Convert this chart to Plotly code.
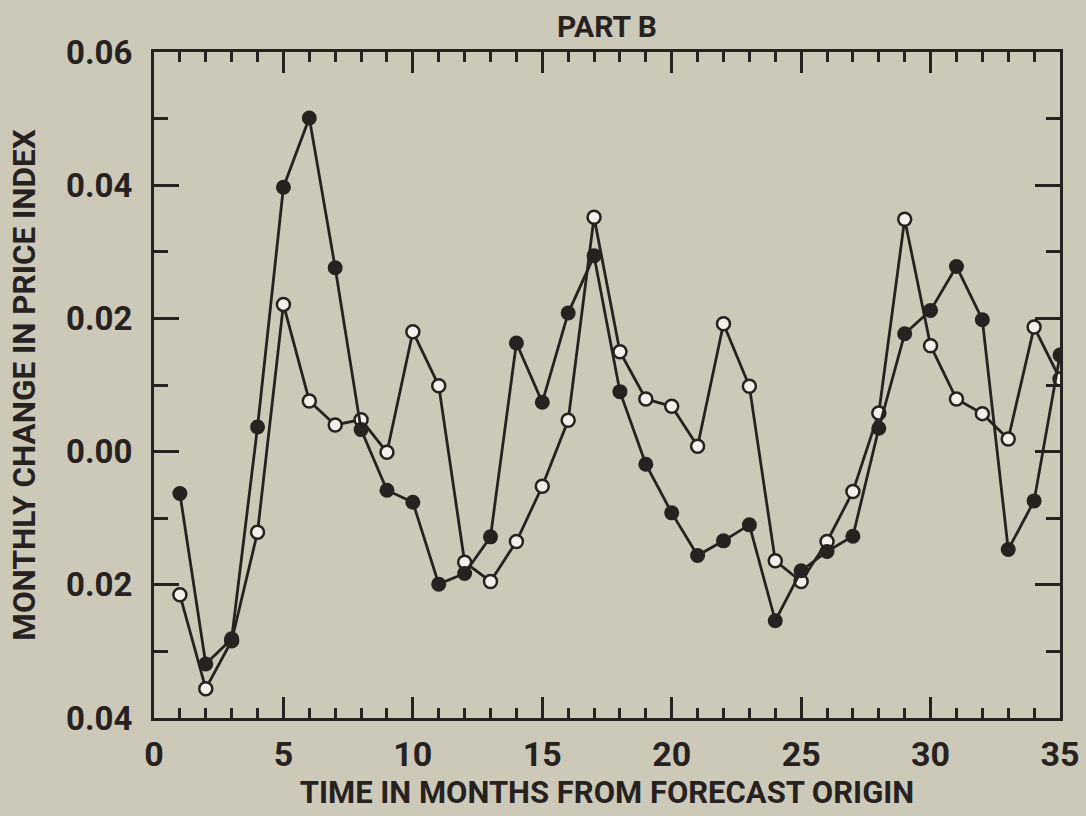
import plotly.graph_objects as go

# Months from the forecast origin
months = list(range(1, 36))

# Solid-dot series: monthly change in price index
series_solid = [
    -0.0063, -0.0319, -0.0281, 0.0037, 0.0397, 0.0501, 0.0276, 0.0033, -0.0058, -0.0076,
    -0.0199, -0.0183, -0.0128, 0.0163, 0.0074, 0.0208, 0.0294, 0.0090, -0.0019, -0.0092,
    -0.0156, -0.0134, -0.0110, -0.0254, -0.0179, -0.0150, -0.0127, 0.0035, 0.0177, 0.0212,
    0.0278, 0.0198, -0.0147, -0.0074, 0.0145,
]

# Open-circle series: monthly change in price index
series_open = [
    -0.0215, -0.0356, -0.0284, -0.0121, 0.0221, 0.0076, 0.0040, 0.0048, -0.0001, 0.0180,
    0.0099, -0.0166, -0.0195, -0.0135, -0.0052, 0.0047, 0.0352, 0.0150, 0.0079, 0.0068,
    0.0008, 0.0192, 0.0098, -0.0164, -0.0195, -0.0135, -0.0060, 0.0058, 0.0349, 0.0159,
    0.0079, 0.0057, 0.0019, 0.0187, 0.0109,
]

x_tick_vals = [0, 5, 10, 15, 20, 25, 30, 35]
y_tick_vals = [0.06, 0.04, 0.02, 0.00, -0.02, -0.04]
y_tick_text = ["0.06", "0.04", "0.02", "0.00", "0.02", "0.04"]

INK = "#27221f"
BG = "#cdc9b9"
FONT = "Roboto, Liberation Sans, sans-serif"

fig = go.Figure()

fig.add_trace(go.Scatter(
    x=months, y=series_open, mode="lines+markers",
    line=dict(color=INK, width=2.8),
    marker=dict(symbol="circle", size=13, color="#f2f0e8",
                line=dict(color=INK, width=2.5)),
    showlegend=False,
))
fig.add_trace(go.Scatter(
    x=months, y=series_solid, mode="lines+markers",
    line=dict(color=INK, width=2.8),
    marker=dict(symbol="circle", size=15, color=INK),
    showlegend=False,
))

fig.update_layout(
    width=1086, height=816,
    margin=dict(l=154, r=26, t=52, b=98),
    paper_bgcolor=BG, plot_bgcolor=BG,
    title=dict(text="<b>PART B</b>", x=0.5, xref="paper", xanchor="center",
               y=1 - 26 / 816, yref="container", yanchor="middle",
               font=dict(family=FONT, size=30, color=INK)),
)

fig.update_xaxes(
    range=[0, 35], tickvals=x_tick_vals, automargin=False,
    ticks="inside", ticklen=21, tickwidth=3, tickcolor=INK,
    minor=dict(dtick=1, ticks="inside", ticklen=10, tickwidth=2.5, tickcolor=INK),
    showline=True, linewidth=3, linecolor=INK, mirror="ticks",
    showgrid=False, zeroline=False,
    ticklabelstandoff=4,
    tickfont=dict(family=FONT, size=34, color=INK, weight="bold"),
    title=dict(text="<b>TIME IN MONTHS FROM FORECAST ORIGIN</b>", standoff=9,
               font=dict(family=FONT, size=31, color=INK)),
)

fig.update_yaxes(
    range=[-0.04, 0.06], tickvals=y_tick_vals, ticktext=y_tick_text, automargin=False,
    ticks="inside", ticklen=25, tickwidth=3, tickcolor=INK,
    minor=dict(dtick=0.01, ticks="inside", ticklen=14, tickwidth=2.5, tickcolor=INK),
    showline=True, linewidth=3, linecolor=INK, mirror="ticks",
    showgrid=False, zeroline=False,
    ticklabelstandoff=12,
    tickfont=dict(family=FONT, size=33, color=INK, weight="bold"),
    title=dict(text="<b>MONTHLY CHANGE IN PRICE INDEX</b>", standoff=22,
               font=dict(family=FONT, size=31.5, color=INK)),
)

fig.write_html("out.html")
